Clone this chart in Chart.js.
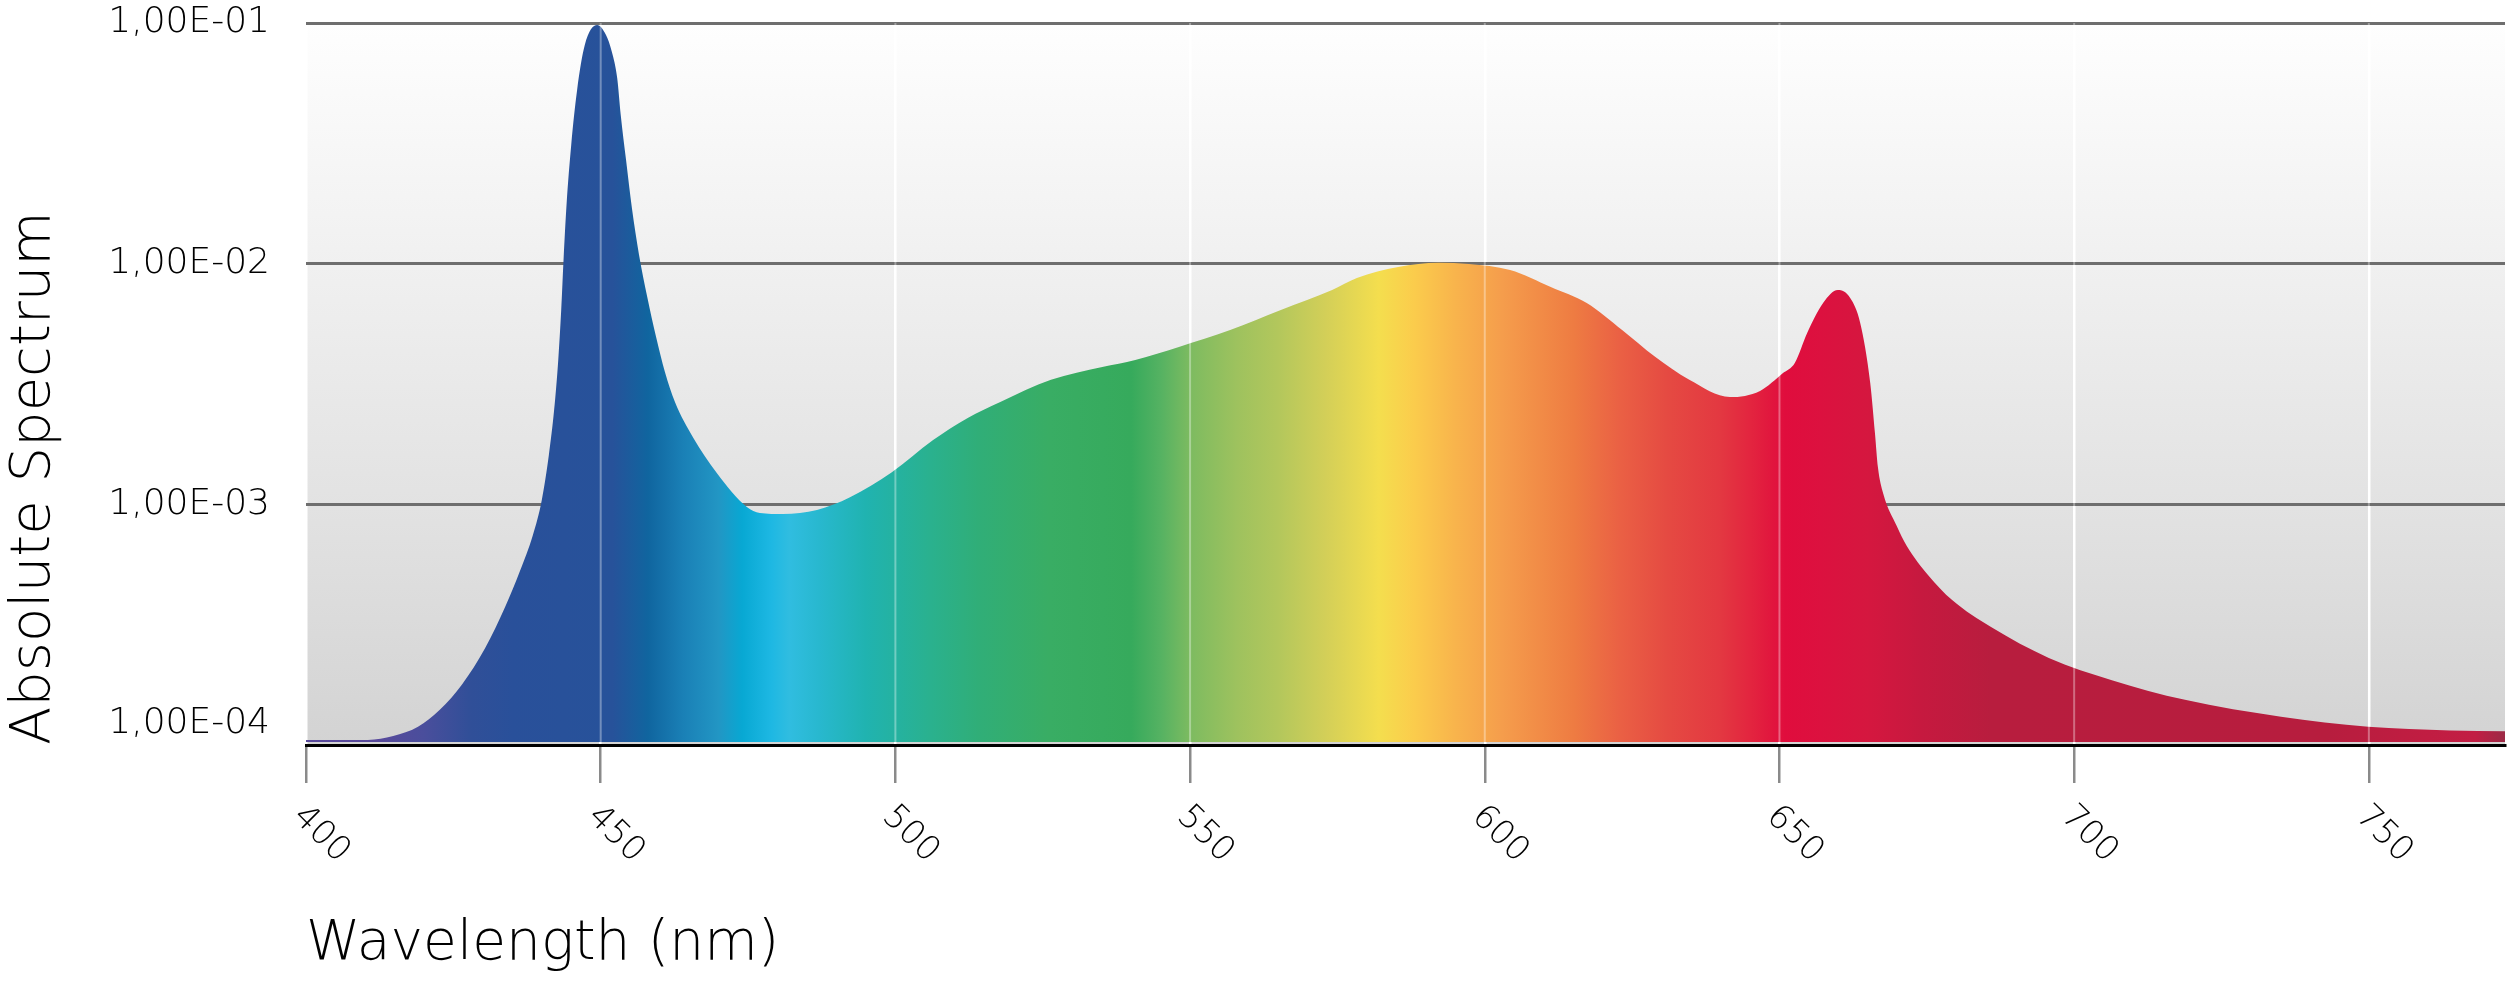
<!DOCTYPE html>
<html>
<head>
<meta charset="utf-8">
<script src="https://cdn.jsdelivr.net/npm/chart.js@4.4.1/dist/chart.umd.min.js"></script>
<style>
  html, body { margin: 0; padding: 0; background: #ffffff; }
  #wrap { width: 2507px; height: 989px; }
</style>
</head>
<body>
<div id="wrap"><canvas id="c" width="2507" height="989"></canvas></div>
<script>
// ---- data ----
const wavelengths = [
  400.0, 404.1, 410.5, 414.8, 419.0, 422.7, 426.5, 430.4, 433.8, 436.3,
  438.5, 440.0, 441.2, 442.1, 442.8, 443.3, 443.7, 444.2, 445.0, 446.0,
  447.3, 449.4, 450.9, 451.9, 452.8, 453.4, 454.3, 455.3, 456.5, 457.9,
  459.4, 460.9, 462.6, 465.7, 469.7, 474.8, 477.0, 480.9, 486.7, 492.3,
  499.4, 506.4, 512.2, 517.8, 526.4, 535.1, 540.7, 548.1, 556.8, 565.4,
  574.1, 578.3, 585.3, 592.2, 597.3, 604.3, 611.2, 617.3, 623.3, 628.9,
  634.7, 641.6, 646.7, 650.6, 652.6, 654.7, 657.4, 659.9, 662.0, 663.7,
  665.4, 666.2, 666.7, 667.6, 669.9, 671.6, 675.2, 679.3, 685.9, 695.7,
  706.4, 718.8, 735.1, 749.9, 763.8, 773.1
];
const spectrum = [
  1.05e-4, 1.05e-4, 1.05e-4, 1.09e-4, 1.19e-4, 1.40e-4, 1.79e-4, 2.53e-4, 3.75e-4, 5.28e-4,
  7.46e-4, 1.04e-3, 1.60e-3, 2.47e-3, 3.98e-3, 6.42e-3, 1.04e-2, 1.75e-2, 3.11e-2, 5.27e-2,
  8.10e-2, 9.81e-2, 8.92e-2, 7.58e-2, 5.91e-2, 4.15e-2, 2.70e-2, 1.70e-2, 1.09e-2, 7.27e-3,
  4.96e-3, 3.55e-3, 2.66e-3, 1.89e-3, 1.35e-3, 9.75e-4, 9.20e-4, 9.11e-4, 9.47e-4, 1.07e-3,
  1.36e-3, 1.85e-3, 2.28e-3, 2.66e-3, 3.29e-3, 3.72e-3, 3.98e-3, 4.51e-3, 5.30e-3, 6.42e-3,
  7.77e-3, 8.72e-3, 9.69e-3, 1.01e-2, 9.97e-3, 9.41e-3, 8.00e-3, 6.86e-3, 5.30e-3, 4.10e-3,
  3.29e-3, 2.79e-3, 2.96e-3, 3.51e-3, 3.87e-3, 5.15e-3, 6.86e-3, 7.77e-3, 7.20e-3, 5.67e-3,
  3.19e-3, 1.98e-3, 1.43e-3, 1.11e-3, 8.13e-4, 6.71e-4, 5.09e-4, 4.00e-4, 3.09e-4, 2.30e-4,
  1.86e-4, 1.54e-4, 1.31e-4, 1.19e-4, 1.15e-4, 1.14e-4
];
const xTicks = [400, 450, 500, 550, 600, 650, 700, 750];
const xTickLabels = ['400', '450', '500', '550', '600', '650', '700', '750'];
const yTicks = [1e-4, 1e-3, 1e-2, 1e-1];
const yTickLabels = ['1,00E-04', '1,00E-03', '1,00E-02', '1,00E-01'];
const xTitle = 'Wavelength (nm)';
const yTitle = 'Absolute Spectrum';
const xMin = 400;
const xMax = 773.1;

// spectral colour stops (wavelength -> colour) for the fill
const stopWavelengths = [400, 412, 420, 428, 435, 452, 458, 464, 470, 474, 479, 482, 487, 495, 506, 514, 526, 540, 545, 550,
  558, 565, 573, 582, 588, 595, 603, 615, 623, 631, 640, 645, 651, 657, 665, 674, 686, 743, 760, 768, 773.1];
const stopColors = ['#5a4a9c', '#58499b', '#4a4e9c', '#304f98', '#29509a', '#27529a', '#10659f', '#1a80b6', '#2296c4', '#08a8d3',
  '#1eb8e3', '#30bde0', '#28b8cf', '#20b3b0', '#2ab18e', '#30ae78', '#39ad64', '#36aa5c', '#55b262', '#7dbb60',
  '#9ec25e', '#b3c75c', '#d3cf58', '#f4de4e', '#fbcc4c', '#f8b44c', '#f59d4c', '#ee7c42', '#ea6044', '#e54a42',
  '#e33841', '#e3253f', '#e00d3d', '#dc113f', '#d5173f', '#c6193f', '#b81d3e', '#b71d3e', '#c11d42', '#c21e44', '#9c2a46'];

const FONT = "'DejaVu Sans', 'Noto Sans', sans-serif";

function spectrumFill(context) {
  const chart = context.chart;
  const area = chart.chartArea;
  const xs = chart.scales.x;
  if (!area || !xs) return '#27529a';
  const p0 = xs.getPixelForValue(xMin);
  const p1 = xs.getPixelForValue(xMax);
  const g = chart.ctx.createLinearGradient(p0, 0, p1, 0);
  stopWavelengths.forEach((w, i) => {
    g.addColorStop(Math.min(1, Math.max(0, (w - xMin) / (xMax - xMin))), stopColors[i]);
  });
  return g;
}

const backgroundPlugin = {
  id: 'plotBackground',
  beforeDraw(chart) {
    const { ctx, chartArea: a } = chart;
    const g = ctx.createLinearGradient(0, a.top, 0, a.bottom);
    g.addColorStop(0, '#fefefe');
    g.addColorStop(0.12, '#f9f9f9');
    g.addColorStop(0.36, '#efefef');
    g.addColorStop(0.67, '#e2e2e2');
    g.addColorStop(1, '#d3d3d3');
    ctx.save();
    ctx.fillStyle = g;
    ctx.fillRect(a.left, a.top, a.right - a.left, a.bottom - a.top);
    ctx.restore();
  }
};

const overlayPlugin = {
  id: 'gridOverlay',
  afterDatasetsDraw(chart) {
    const { ctx, chartArea: a } = chart;
    const xs = chart.scales.x;
    ctx.save();
    ctx.beginPath();
    ctx.rect(a.left, a.top, a.right - a.left, a.bottom - a.top - 3);
    ctx.clip();
    ctx.strokeStyle = 'rgba(255,255,255,0.35)';
    ctx.lineWidth = 2;
    xs.ticks.forEach((t, i) => {
      if (i === 0) return;
      const px = xs.getPixelForValue(t.value);
      ctx.beginPath();
      ctx.moveTo(px, a.top);
      ctx.lineTo(px, a.bottom);
      ctx.stroke();
    });
    ctx.restore();
  }
};

new Chart(document.getElementById('c').getContext('2d'), {
  type: 'line',
  data: {
    datasets: [{
      data: wavelengths.map((w, i) => ({ x: w, y: spectrum[i] })),
      fill: 'start',
      backgroundColor: spectrumFill,
      borderWidth: 0,
      borderColor: 'rgba(0,0,0,0)',
      pointRadius: 0,
      cubicInterpolationMode: 'monotone',
      clip: { left: 0, top: 5, right: 0, bottom: -3 }
    }]
  },
  options: {
    responsive: false,
    animation: false,
    devicePixelRatio: 1,
    layout: { padding: { left: 0, top: 23, right: 2, bottom: 0 } },
    plugins: { legend: { display: false }, tooltip: { enabled: false } },
    scales: {
      x: {
        type: 'linear',
        min: xMin,
        max: xMax,
        afterBuildTicks: (s) => { s.ticks = xTicks.map(v => ({ value: v })); },
        afterFit: (s) => { s.height = 244; },
        grid: { color: '#ffffff', lineWidth: 2.5, tickLength: 38, tickColor: '#8a8a8a', tickWidth: 2.5 },
        border: { display: true, color: '#000000', width: 3 },
        ticks: {
          autoSkip: false,
          minRotation: -45,
          maxRotation: -45,
          labelOffset: 38,
          padding: 60,
          color: '#000000',
          font: { family: FONT, size: 34, weight: 200 },
          callback: (v) => { const i = xTicks.indexOf(v); return i >= 0 ? xTickLabels[i] : ''; }
        },
        title: {
          display: true, text: xTitle, align: 'start', color: '#000000',
          font: { family: FONT, size: 55, weight: 200 },
          padding: { top: 0, bottom: 11 }
        }
      },
      y: {
        type: 'logarithmic',
        min: 1e-4,
        max: 1e-1,
        afterBuildTicks: (s) => { s.ticks = yTicks.map(v => ({ value: v })); },
        afterFit: (s) => { s.width = 306; },
        grid: { color: '#6e6e6e', lineWidth: 3, drawTicks: true, tickLength: 36, tickColor: 'rgba(0,0,0,0)' },
        border: { display: false },
        ticks: {
          padding: 0,
          color: '#000000',
          font: { family: FONT, size: 36, weight: 200 },
          callback: (v) => {
            const i = yTicks.findIndex(t => Math.abs(Math.log10(t) - Math.log10(v)) < 1e-6);
            if (i < 0) return '';
            return i === 0 ? [yTickLabels[i], ''] : yTickLabels[i];
          }
        },
        title: {
          display: true, text: yTitle, align: 'start', color: '#000000',
          font: { family: FONT, size: 56, weight: 200 },
          padding: { top: 1, bottom: 0 }
        }
      }
    }
  },
  plugins: [backgroundPlugin, overlayPlugin]
});
</script>
</body>
</html>
